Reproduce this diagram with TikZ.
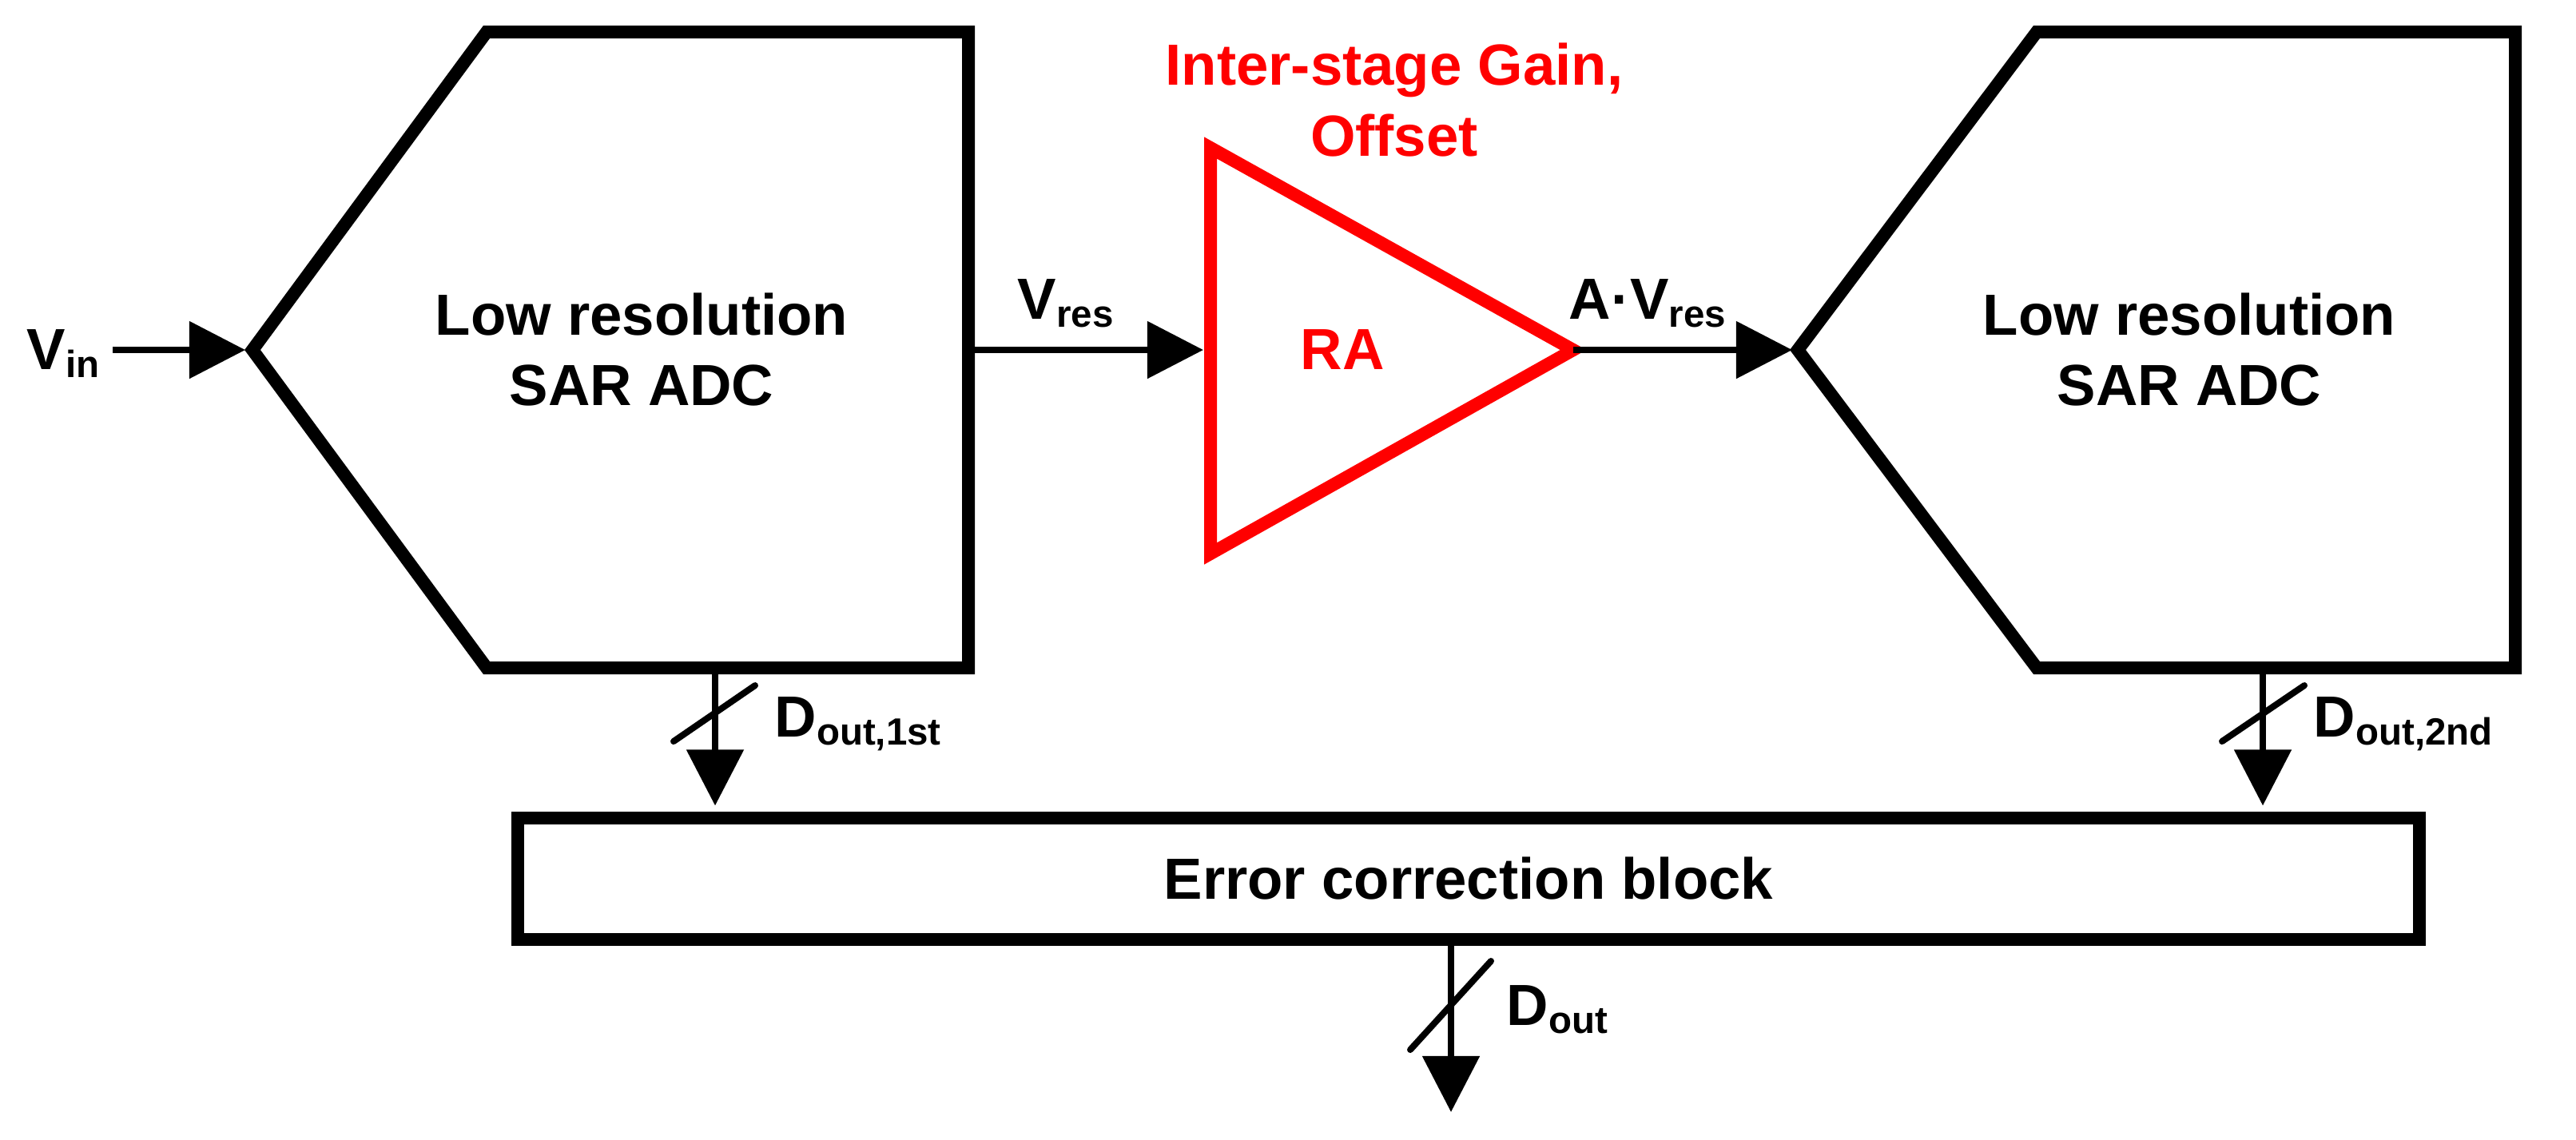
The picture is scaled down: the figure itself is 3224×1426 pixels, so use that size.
\documentclass[tikz,border=0pt]{standalone}
\usepackage{fontspec}
\setmainfont{Liberation Sans}
\usetikzlibrary{arrows.meta}
\newcommand{\sbx}[1]{\raisebox{-3pt}{\fontsize{13.5pt}{13.5pt}\selectfont #1}}
\begin{document}
\begin{tikzpicture}[x=0.01cm,y=-0.01cm,
  blk/.style={line width=0.16cm, line join=miter},
  sig/.style={line width=0.085cm, -{Triangle[length=0.7cm,width=0.7cm]}},
  bus/.style={line width=0.08cm, line cap=round},
  lbl/.style={font=\fontsize{20.65pt}{24pt}\selectfont\bfseries, inner sep=0pt},
]
\useasboundingbox (0,0) rectangle (3224,1426);

% first SAR ADC
\draw[blk] (316,438) -- (609,40) -- (1212,40) -- (1212,836) -- (609,836) -- cycle;
\coordinate (h1in) at (307,438);
\coordinate (h1out) at (1212,438);
\coordinate (h1bot) at (895,836);
\node[lbl, anchor=base] (h1t1) at (803,419) {Low resolution};
\node[lbl, anchor=base] (h1t2) at (803,507) {SAR ADC};

% second SAR ADC
\draw[blk] (2250,438) -- (2549,40) -- (3148,40) -- (3148,836) -- (2549,836) -- cycle;
\coordinate (h2in) at (2243,438);
\coordinate (h2bot) at (2832,836);
\node[lbl, anchor=base] (h2t1) at (2740,419) {Low resolution};
\node[lbl, anchor=base] (h2t2) at (2740,507) {SAR ADC};

% residue amplifier
\draw[blk, red] (1515,185) -- (1969,438) -- (1515,693) -- cycle;
\coordinate (rain) at (1506,438);
\coordinate (raout) at (1969,438);
\node[lbl, red, anchor=base] (ra) at (1680,462) {RA};
\node[lbl, red, anchor=base] (isg1) at (1745,106) {Inter-stage Gain,};
\node[lbl, red, anchor=base] (isg2) at (1745,195) {Offset};

% error correction block
\node[blk, draw, lbl, minimum width=23.78cm, minimum height=1.51cm] (ecb) at (1838,1100) {Error correction block};

% signals
\coordinate (vinstart) at (141,438);
\node[lbl, anchor=base west] (vin) at (33,462) {V\sbx{in}};
\draw[sig] (vinstart) -- (h1in);

\node[lbl, anchor=base west] (vres) at (1273,399) {V\sbx{res}};
\draw[sig] (h1out) -- (rain);

\node[lbl, anchor=base west] (avres) at (1963,399) {A·V\sbx{res}};
\draw[sig] (raout) -- (h2in);

\draw[sig, shorten >=0.08cm] (h1bot) -- (h1bot |- ecb.north);
\draw[bus] (843,928) -- (945,858);
\node[lbl, anchor=base west] (d1) at (969,922) {D\sbx{out,1st}};

\draw[sig, shorten >=0.08cm] (h2bot) -- (h2bot |- ecb.north);
\draw[bus] (2781,928) -- (2884,858);
\node[lbl, anchor=base west] (d2) at (2895,922) {D\sbx{out,2nd}};

\coordinate (doutend) at (1816,1392);
\draw[sig] (ecb.south -| doutend) -- (doutend);
\draw[bus] (1765,1314) -- (1866,1203);
\node[lbl, anchor=base west] (dout) at (1885,1283) {D\sbx{out}};
\end{tikzpicture}
\end{document}
